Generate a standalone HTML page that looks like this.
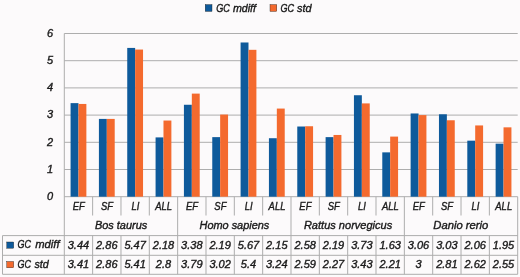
<!DOCTYPE html>
<html><head><meta charset="utf-8"><style>
html,body{margin:0;padding:0;background:#fcfafb;width:520px;height:277px;overflow:hidden;font-family:"Liberation Sans",sans-serif;}
svg{display:block;will-change:transform}
</style></head><body>
<svg width="520" height="277" viewBox="0 0 520 277">
<rect width="520" height="277" fill="#fcfafb"/>
<line x1="64.3" y1="196.70" x2="517.7" y2="196.70" stroke="#adadad" stroke-width="1"/>
<line x1="64.3" y1="169.50" x2="517.7" y2="169.50" stroke="#adadad" stroke-width="1"/>
<line x1="64.3" y1="142.30" x2="517.7" y2="142.30" stroke="#adadad" stroke-width="1"/>
<line x1="64.3" y1="115.10" x2="517.7" y2="115.10" stroke="#adadad" stroke-width="1"/>
<line x1="64.3" y1="87.90" x2="517.7" y2="87.90" stroke="#adadad" stroke-width="1"/>
<line x1="64.3" y1="60.70" x2="517.7" y2="60.70" stroke="#adadad" stroke-width="1"/>
<line x1="64.3" y1="33.50" x2="517.7" y2="33.50" stroke="#adadad" stroke-width="1"/>
<line x1="64.3" y1="33.50" x2="64.3" y2="274.3" stroke="#adadad" stroke-width="1"/>
<rect x="70.57" y="103.13" width="7.9" height="93.57" fill="#0e5a9b"/>
<rect x="78.47" y="103.95" width="7.9" height="92.75" fill="#f46a2e"/>
<rect x="98.91" y="118.91" width="7.9" height="77.79" fill="#0e5a9b"/>
<rect x="106.81" y="118.91" width="7.9" height="77.79" fill="#f46a2e"/>
<rect x="127.24" y="47.92" width="7.9" height="148.78" fill="#0e5a9b"/>
<rect x="135.14" y="49.55" width="7.9" height="147.15" fill="#f46a2e"/>
<rect x="155.58" y="137.40" width="7.9" height="59.30" fill="#0e5a9b"/>
<rect x="163.48" y="120.54" width="7.9" height="76.16" fill="#f46a2e"/>
<rect x="183.92" y="104.76" width="7.9" height="91.94" fill="#0e5a9b"/>
<rect x="191.82" y="93.61" width="7.9" height="103.09" fill="#f46a2e"/>
<rect x="212.26" y="137.13" width="7.9" height="59.57" fill="#0e5a9b"/>
<rect x="220.16" y="114.56" width="7.9" height="82.14" fill="#f46a2e"/>
<rect x="240.59" y="42.48" width="7.9" height="154.22" fill="#0e5a9b"/>
<rect x="248.50" y="49.82" width="7.9" height="146.88" fill="#f46a2e"/>
<rect x="268.93" y="138.22" width="7.9" height="58.48" fill="#0e5a9b"/>
<rect x="276.83" y="108.57" width="7.9" height="88.13" fill="#f46a2e"/>
<rect x="297.27" y="126.52" width="7.9" height="70.18" fill="#0e5a9b"/>
<rect x="305.17" y="126.25" width="7.9" height="70.45" fill="#f46a2e"/>
<rect x="325.61" y="137.13" width="7.9" height="59.57" fill="#0e5a9b"/>
<rect x="333.51" y="134.96" width="7.9" height="61.74" fill="#f46a2e"/>
<rect x="353.94" y="95.24" width="7.9" height="101.46" fill="#0e5a9b"/>
<rect x="361.84" y="103.40" width="7.9" height="93.30" fill="#f46a2e"/>
<rect x="382.28" y="152.36" width="7.9" height="44.34" fill="#0e5a9b"/>
<rect x="390.18" y="136.59" width="7.9" height="60.11" fill="#f46a2e"/>
<rect x="410.62" y="113.47" width="7.9" height="83.23" fill="#0e5a9b"/>
<rect x="418.52" y="115.10" width="7.9" height="81.60" fill="#f46a2e"/>
<rect x="438.96" y="114.28" width="7.9" height="82.42" fill="#0e5a9b"/>
<rect x="446.86" y="120.27" width="7.9" height="76.43" fill="#f46a2e"/>
<rect x="467.30" y="140.67" width="7.9" height="56.03" fill="#0e5a9b"/>
<rect x="475.19" y="125.44" width="7.9" height="71.26" fill="#f46a2e"/>
<rect x="495.63" y="143.66" width="7.9" height="53.04" fill="#0e5a9b"/>
<rect x="503.53" y="127.34" width="7.9" height="69.36" fill="#f46a2e"/>
<line x1="2.5" y1="235.6" x2="517.7" y2="235.6" stroke="#adadad" stroke-width="1"/>
<line x1="2.5" y1="255.3" x2="517.7" y2="255.3" stroke="#adadad" stroke-width="1"/>
<line x1="2.5" y1="274.3" x2="517.7" y2="274.3" stroke="#adadad" stroke-width="1"/>
<line x1="2.5" y1="235.6" x2="2.5" y2="274.3" stroke="#adadad" stroke-width="1"/>
<line x1="92.64" y1="196.7" x2="92.64" y2="215.5" stroke="#adadad" stroke-width="1"/>
<line x1="92.64" y1="235.6" x2="92.64" y2="274.3" stroke="#adadad" stroke-width="1"/>
<line x1="120.97" y1="196.7" x2="120.97" y2="215.5" stroke="#adadad" stroke-width="1"/>
<line x1="120.97" y1="235.6" x2="120.97" y2="274.3" stroke="#adadad" stroke-width="1"/>
<line x1="149.31" y1="196.7" x2="149.31" y2="215.5" stroke="#adadad" stroke-width="1"/>
<line x1="149.31" y1="235.6" x2="149.31" y2="274.3" stroke="#adadad" stroke-width="1"/>
<line x1="177.65" y1="196.7" x2="177.65" y2="274.3" stroke="#adadad" stroke-width="1"/>
<line x1="205.99" y1="196.7" x2="205.99" y2="215.5" stroke="#adadad" stroke-width="1"/>
<line x1="205.99" y1="235.6" x2="205.99" y2="274.3" stroke="#adadad" stroke-width="1"/>
<line x1="234.32" y1="196.7" x2="234.32" y2="215.5" stroke="#adadad" stroke-width="1"/>
<line x1="234.32" y1="235.6" x2="234.32" y2="274.3" stroke="#adadad" stroke-width="1"/>
<line x1="262.66" y1="196.7" x2="262.66" y2="215.5" stroke="#adadad" stroke-width="1"/>
<line x1="262.66" y1="235.6" x2="262.66" y2="274.3" stroke="#adadad" stroke-width="1"/>
<line x1="291.00" y1="196.7" x2="291.00" y2="274.3" stroke="#adadad" stroke-width="1"/>
<line x1="319.34" y1="196.7" x2="319.34" y2="215.5" stroke="#adadad" stroke-width="1"/>
<line x1="319.34" y1="235.6" x2="319.34" y2="274.3" stroke="#adadad" stroke-width="1"/>
<line x1="347.68" y1="196.7" x2="347.68" y2="215.5" stroke="#adadad" stroke-width="1"/>
<line x1="347.68" y1="235.6" x2="347.68" y2="274.3" stroke="#adadad" stroke-width="1"/>
<line x1="376.01" y1="196.7" x2="376.01" y2="215.5" stroke="#adadad" stroke-width="1"/>
<line x1="376.01" y1="235.6" x2="376.01" y2="274.3" stroke="#adadad" stroke-width="1"/>
<line x1="404.35" y1="196.7" x2="404.35" y2="274.3" stroke="#adadad" stroke-width="1"/>
<line x1="432.69" y1="196.7" x2="432.69" y2="215.5" stroke="#adadad" stroke-width="1"/>
<line x1="432.69" y1="235.6" x2="432.69" y2="274.3" stroke="#adadad" stroke-width="1"/>
<line x1="461.03" y1="196.7" x2="461.03" y2="215.5" stroke="#adadad" stroke-width="1"/>
<line x1="461.03" y1="235.6" x2="461.03" y2="274.3" stroke="#adadad" stroke-width="1"/>
<line x1="489.36" y1="196.7" x2="489.36" y2="215.5" stroke="#adadad" stroke-width="1"/>
<line x1="489.36" y1="235.6" x2="489.36" y2="274.3" stroke="#adadad" stroke-width="1"/>
<line x1="517.70" y1="196.7" x2="517.70" y2="274.3" stroke="#adadad" stroke-width="1"/>
<g font-family="Liberation Sans, sans-serif" font-style="italic" font-size="11" fill="#1a1a1a" stroke="#1a1a1a" stroke-width="0.38">
<text x="53" y="200.00" text-anchor="end">0</text>
<text x="53" y="172.80" text-anchor="end">1</text>
<text x="53" y="145.60" text-anchor="end">2</text>
<text x="53" y="118.40" text-anchor="end">3</text>
<text x="53" y="91.20" text-anchor="end">4</text>
<text x="53" y="64.00" text-anchor="end">5</text>
<text x="53" y="36.80" text-anchor="end">6</text>
<text transform="translate(78.67,210) scale(0.86,1)" text-anchor="middle">EF</text>
<text x="78.47" y="248.7" text-anchor="middle">3.44</text>
<text x="78.47" y="268.2" text-anchor="middle">3.41</text>
<text transform="translate(107.01,210) scale(0.86,1)" text-anchor="middle">SF</text>
<text x="106.81" y="248.7" text-anchor="middle">2.86</text>
<text x="106.81" y="268.2" text-anchor="middle">2.86</text>
<text transform="translate(135.34,210) scale(0.86,1)" text-anchor="middle">LI</text>
<text x="135.14" y="248.7" text-anchor="middle">5.47</text>
<text x="135.14" y="268.2" text-anchor="middle">5.41</text>
<text transform="translate(163.68,210) scale(0.86,1)" text-anchor="middle">ALL</text>
<text x="163.48" y="248.7" text-anchor="middle">2.18</text>
<text x="163.48" y="268.2" text-anchor="middle">2.8</text>
<text transform="translate(192.02,210) scale(0.86,1)" text-anchor="middle">EF</text>
<text x="191.82" y="248.7" text-anchor="middle">3.38</text>
<text x="191.82" y="268.2" text-anchor="middle">3.79</text>
<text transform="translate(220.36,210) scale(0.86,1)" text-anchor="middle">SF</text>
<text x="220.16" y="248.7" text-anchor="middle">2.19</text>
<text x="220.16" y="268.2" text-anchor="middle">3.02</text>
<text transform="translate(248.69,210) scale(0.86,1)" text-anchor="middle">LI</text>
<text x="248.49" y="248.7" text-anchor="middle">5.67</text>
<text x="248.49" y="268.2" text-anchor="middle">5.4</text>
<text transform="translate(277.03,210) scale(0.86,1)" text-anchor="middle">ALL</text>
<text x="276.83" y="248.7" text-anchor="middle">2.15</text>
<text x="276.83" y="268.2" text-anchor="middle">3.24</text>
<text transform="translate(305.37,210) scale(0.86,1)" text-anchor="middle">EF</text>
<text x="305.17" y="248.7" text-anchor="middle">2.58</text>
<text x="305.17" y="268.2" text-anchor="middle">2.59</text>
<text transform="translate(333.71,210) scale(0.86,1)" text-anchor="middle">SF</text>
<text x="333.51" y="248.7" text-anchor="middle">2.19</text>
<text x="333.51" y="268.2" text-anchor="middle">2.27</text>
<text transform="translate(362.04,210) scale(0.86,1)" text-anchor="middle">LI</text>
<text x="361.84" y="248.7" text-anchor="middle">3.73</text>
<text x="361.84" y="268.2" text-anchor="middle">3.43</text>
<text transform="translate(390.38,210) scale(0.86,1)" text-anchor="middle">ALL</text>
<text x="390.18" y="248.7" text-anchor="middle">1.63</text>
<text x="390.18" y="268.2" text-anchor="middle">2.21</text>
<text transform="translate(418.72,210) scale(0.86,1)" text-anchor="middle">EF</text>
<text x="418.52" y="248.7" text-anchor="middle">3.06</text>
<text x="418.52" y="268.2" text-anchor="middle">3</text>
<text transform="translate(447.06,210) scale(0.86,1)" text-anchor="middle">SF</text>
<text x="446.86" y="248.7" text-anchor="middle">3.03</text>
<text x="446.86" y="268.2" text-anchor="middle">2.81</text>
<text transform="translate(475.39,210) scale(0.86,1)" text-anchor="middle">LI</text>
<text x="475.19" y="248.7" text-anchor="middle">2.06</text>
<text x="475.19" y="268.2" text-anchor="middle">2.62</text>
<text transform="translate(503.73,210) scale(0.86,1)" text-anchor="middle">ALL</text>
<text x="503.53" y="248.7" text-anchor="middle">1.95</text>
<text x="503.53" y="268.2" text-anchor="middle">2.55</text>
<text transform="translate(94.90,228.90) scale(0.998,1)" font-size="11">Bos taurus</text>
<text transform="translate(199.50,228.90) scale(0.994,1)" font-size="11">Homo sapiens</text>
<text transform="translate(303.90,228.90) scale(1.004,1)" font-size="11">Rattus norvegicus</text>
<text transform="translate(433.30,228.90) scale(1.022,1)" font-size="11">Danio rerio</text>
<rect x="6.8" y="242" width="6.9" height="6.2" fill="#0e5a9b"/>
<rect x="6.8" y="261.5" width="6.9" height="6.3" fill="#f46a2e"/>
<text transform="translate(17.60,248.00) scale(0.819,1)" font-size="11">GC</text>
<text transform="translate(35.20,248.00) scale(1.022,1)" font-size="11">mdiff</text>
<text transform="translate(17.60,267.70) scale(0.819,1)" font-size="11">GC</text>
<text transform="translate(34.40,267.70) scale(0.973,1)" font-size="11">std</text>
<rect x="205.2" y="4.6" width="6.8" height="6.8" fill="#0e5a9b"/>
<text transform="translate(216.20,11.60) scale(0.847,1)" font-size="10.8">GC</text>
<text transform="translate(232.90,11.60) scale(0.990,1)" font-size="10.8">mdiff</text>
<rect x="270" y="4.6" width="6.8" height="6.8" fill="#f46a2e"/>
<text transform="translate(280.50,11.60) scale(0.840,1)" font-size="10.8">GC</text>
<text transform="translate(297.10,11.60) scale(1.014,1)" font-size="10.8">std</text>
</g>
</svg>
</body></html>
